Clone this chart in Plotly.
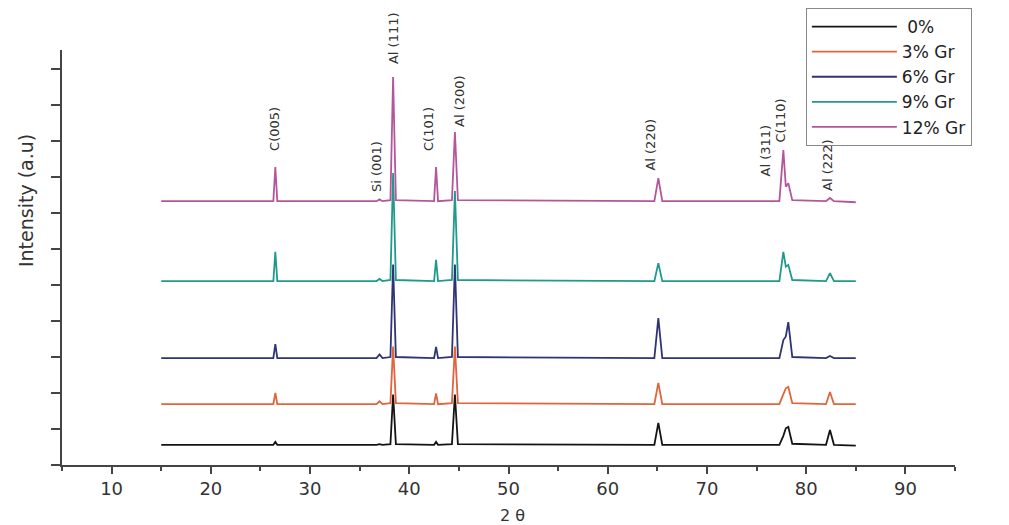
import plotly.graph_objects as go

# 2-theta sample positions (degrees)
two_theta = [15, 26.3, 26.5, 26.7, 36.7, 37.0, 37.3, 38.1, 38.37, 38.65,
             42.5, 42.7, 42.9, 44.3, 44.6, 44.9, 64.7, 65.1, 65.5,
             77.3, 77.7, 77.95, 78.2, 78.6, 82.0, 82.4, 82.8, 85]

series_names = [" 0%", "3% Gr", "6% Gr", "9% Gr", "12% Gr"]
offsets = [5.6, 16.9, 29.7, 51.1, 73.3]

# intensity above each curve's own baseline (a.u.)
int_0 = [0, 0, 0.8, 0, 0, 0.2, 0, 0.2, 14, 0.2,
         0, 0.8, 0, 0.2, 14, 0.2, 0, 6.1, 0,
         0, 2.5, 4.6, 5.0, 0.3, 0, 4.1, 0, -0.2]
int_3 = [0, 0, 3.1, 0, 0, 0.8, 0, 0.3, 16, 0.3,
         0, 3.0, 0, 0.3, 16, 0.3, 0, 5.9, 0,
         0, 2.8, 4.4, 4.8, 0.3, 0, 3.4, 0, 0]
int_6 = [0, 0, 3.9, 0, 0, 1.0, 0, 0.3, 26, 0.3,
         0, 3.1, 0, 0.3, 26, 0.3, 0, 11.1, 0,
         0, 5.0, 6.0, 10.0, 0.3, 0, 0.6, 0, 0]
int_9 = [0, 0, 8.1, 0, 0, 0.6, 0, 0.3, 30, 0.3,
         0, 5.9, 0, 0.3, 25, 0.3, 0, 5.0, 0,
         0, 8.1, 4.0, 4.5, 0.3, 0, 2.2, 0, 0]
int_12 = [0, 0, 9.5, 0, 0, 0.5, 0, 0.3, 34.5, 0.3,
          0, 9.5, 0, 0.3, 19.2, 0.3, 0, 6.4, 0,
          0, 14.2, 4.0, 5.0, 0.3, 0, 0.9, 0, -0.3]
intensities = [int_0, int_3, int_6, int_9, int_12]
colors = ["#141414", "#e0643c", "#2f3474", "#1f9a8c", "#b4569c"]

# peak labels
label_text = ["C(005)", "Si (001)", "Al (111)", "C(101)", "Al (200)",
              "Al (220)", "Al (311)", "C(110)", "Al (222)"]
label_x = [26.47, 36.65, 38.47, 42.0, 45.0, 64.3, 75.9, 77.4, 82.2]
label_y = [0.810, 0.718, 1.029, 0.810, 0.877, 0.773, 0.759, 0.831, 0.723]

x_ticks = [10, 20, 30, 40, 50, 60, 70, 80, 90]

fig = go.Figure()
for name, off, ints, col in zip(series_names, offsets, intensities, colors):
    fig.add_trace(go.Scatter(
        x=two_theta, y=[off + v for v in ints], mode="lines", name=name,
        line=dict(color=col, width=1.8)))

font_main = "DejaVu Sans"
annotations = []
for t, lx, ly in zip(label_text, label_x, label_y):
    annotations.append(dict(x=lx, y=ly, xref="x", yref="paper", text=t,
                            xanchor="center", yanchor="middle",
                            showarrow=False, textangle=-90,
                            font=dict(family=font_main, size=13, color="#333")))
annotations.append(dict(x=0.505, y=-0.1205, xref="paper", yref="paper", text="2 θ",
                        xanchor="center", yanchor="middle",
                        showarrow=False, font=dict(family=font_main, size=16, color="#333")))
annotations.append(dict(x=-0.0403, y=0.636, xref="paper", yref="paper",
                        text="Intensity (a.u)", showarrow=False, textangle=-90,
                        xanchor="center", yanchor="middle",
                        font=dict(family=font_main, size=19, color="#333")))

fig.update_layout(
    width=1009, height=525,
    margin=dict(l=54, r=62, t=42, b=68, autoexpand=False),
    plot_bgcolor="white", paper_bgcolor="white",
    showlegend=True,
    legend=dict(x=0.833, y=1.0, yref="container", xanchor="left", yanchor="top",
                bordercolor="#888", borderwidth=1, bgcolor="white",
                itemwidth=85,
                font=dict(family=font_main, size=17, color="#222")),
    annotations=annotations,
    xaxis=dict(range=[5, 95], tickvals=x_ticks, showgrid=False, zeroline=False,
               showline=True, linecolor="#444", linewidth=1.5,
               ticks="outside", ticklen=7, tickcolor="#444", tickwidth=1.5,
               minor=dict(dtick=5, tick0=5, ticks="outside", ticklen=4,
                          tickcolor="#444", tickwidth=1.5),
               tickfont=dict(family=font_main, size=18, color="#333")),
    yaxis=dict(range=[0, 115.3], dtick=10, tick0=0, showgrid=False, zeroline=False,
               showline=True, linecolor="#444", linewidth=1.5,
               ticks="outside", ticklen=9, tickcolor="#444", tickwidth=1.5,
               showticklabels=False),
)

fig.write_html("out.html")
